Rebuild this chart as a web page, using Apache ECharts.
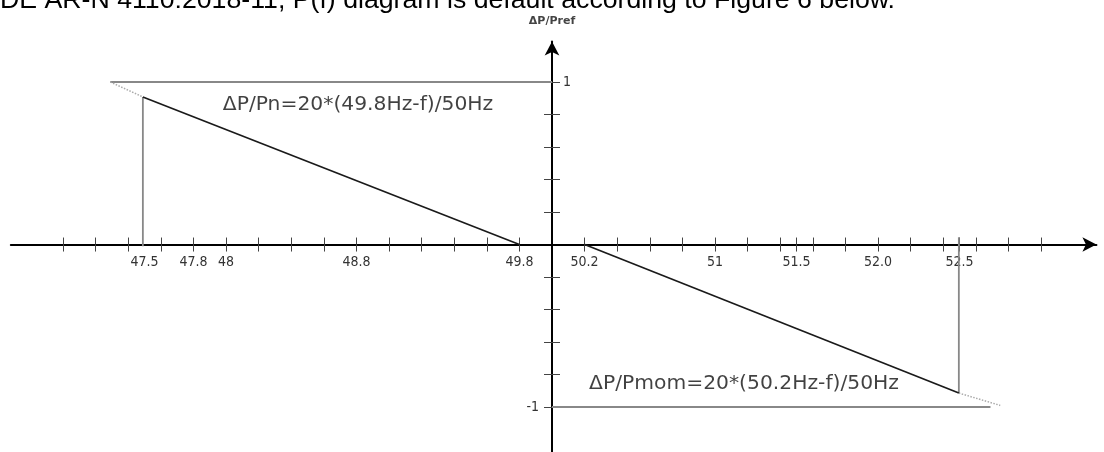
<!DOCTYPE html>
<html>
<head>
<meta charset="utf-8">
<title>P(f) diagram</title>
<script src="https://cdn.jsdelivr.net/npm/echarts@6/dist/echarts.min.js"></script>
<style>
  html, body { margin: 0; padding: 0; background: #fff; }
  #chart { width: 1104px; height: 452px; }
</style>
</head>
<body>
<div id="chart"></div>
<script>
// schematic diagram: x is in "tick steps" from the origin, y is ΔP/Pref
const headline = "DE AR-N 4110:2018-11, P(f) diagram is default according to Figure 6 below.";

const xTickValues = [-15, -14, -13, -12, -11, -10, -9, -8, -7, -6, -5, -4, -3, -2, -1,
  1, 2, 3, 4, 5, 6, 7, 7.5, 8, 9, 10, 11, 12, 12.5, 13, 14, 15];
const xLabelValues = [-12.5, -11, -10, -6, -1, 1, 5, 7.5, 10, 12.5];
const xLabelTexts = ["47.5", "47.8", "48", "48.8", "49.8", "50.2", "51", "51.5", "52.0", "52.5"];

const yTickValues = [-1, -0.8, -0.6, -0.4, -0.2, 0.2, 0.4, 0.6, 0.8, 1];
const yLabelLeft = [-1];
const yLabelRight = [1];

// curve pieces
const upperLimit = [[-13.55, 1], [0, 1]];
const lowerLimit = [[0, -1], [13.45, -1]];
const leftSlope = [[-12.55, 0.908], [-1, 0]];
const rightSlope = [[1, 0], [12.48, -0.914]];
const leftExtension = [[-13.55, 1], [-12.55, 0.908]];
const rightExtension = [[12.48, -0.914], [13.75, -0.99]];
const leftDrop = [[-12.55, 0.908], [-12.55, -0.01]];
const rightDrop = [[12.48, 0.045], [12.48, -0.914]];

const annotationTexts = ["ΔP/Pn=20*(49.8Hz-f)/50Hz", "ΔP/Pmom=20*(50.2Hz-f)/50Hz"];
const annotationX = [-5.95, 5.89];
const annotationY = [0.858, -0.858];

const X_MIN = -16.6, X_MAX = 16.7, Y_MIN = -1.3, Y_MAX = 1.25;
const grid = { left: 10.84, right: 7.58, top: 41.4, bottom: -3.8 };
// where the origin sits inside the grid, used to pull the label axes onto the zero lines
const W = 1104, H = 452;
const gridW = W - grid.left - grid.right, gridH = H - grid.top - grid.bottom;
const zeroX = grid.left + gridW * (0 - X_MIN) / (X_MAX - X_MIN);
const zeroY = grid.top + gridH * (Y_MAX - 0) / (Y_MAX - Y_MIN);

const chart = echarts.init(document.getElementById("chart"), null, { renderer: "canvas" });

const tickFont = { fontFamily: "'DejaVu Sans Condensed', 'Liberation Sans', sans-serif", fontSize: 14, color: "#333" };
const tickLine = { color: "#444", width: 1 };

const lineSeries = (data, color, width, type) => ({
  type: "line",
  data: data,
  symbol: "none",
  silent: true,
  lineStyle: { color: color, width: width, type: type || "solid" },
  z: 3,
});

const bareX = { type: "value", min: X_MIN, max: X_MAX, splitLine: { show: false } };
const bareY = { type: "value", min: Y_MIN, max: Y_MAX, splitLine: { show: false } };

const option = {
  animation: false,
  backgroundColor: "#fff",
  title: {
    text: headline,
    left: 0,
    top: -13,
    padding: 0,
    textStyle: { fontFamily: "Liberation Sans", fontSize: 26.7, fontWeight: "normal", color: "#000" },
  },
  grid: { ...grid, containLabel: false, outerBoundsMode: "none" },
  xAxis: [
    {
      ...bareX,
      position: "bottom",
      axisLine: {
        onZero: true,
        onZeroAxisIndex: 0,
        symbol: ["none", "arrow"],
        symbolSize: [11, 14],
        lineStyle: { color: "#000", width: 2 },
      },
      axisTick: { show: true, length: 7, customValues: xTickValues, lineStyle: tickLine },
      axisLabel: { show: false },
    },
    {
      ...bareX,
      position: "top",
      axisLine: { show: false, onZero: true, onZeroAxisIndex: 0 },
      axisTick: { show: true, length: 7, customValues: xTickValues, lineStyle: tickLine },
      axisLabel: { show: false },
    },
    {
      ...bareX,
      position: "bottom",
      offset: -(H - grid.bottom - zeroY),
      axisLine: { show: false, onZero: false },
      axisTick: { show: false },
      axisLabel: {
        show: true,
        margin: 11,
        customValues: xLabelValues,
        formatter: v => xLabelTexts[xLabelValues.indexOf(v)],
        ...tickFont,
      },
    },
  ],
  yAxis: [
    {
      ...bareY,
      position: "left",
      name: "ΔP/Pref",
      nameLocation: "end",
      nameGap: 15,
      nameTextStyle: { fontFamily: "DejaVu Sans", fontSize: 11, fontWeight: "bold", color: "#444" },
      axisLine: {
        onZero: true,
        onZeroAxisIndex: 0,
        symbol: ["none", "arrow"],
        symbolSize: [11, 14],
        lineStyle: { color: "#000", width: 2 },
      },
      axisTick: { show: true, length: 8, customValues: yTickValues, lineStyle: tickLine },
      axisLabel: { show: false },
    },
    {
      ...bareY,
      position: "right",
      axisLine: { show: false, onZero: true, onZeroAxisIndex: 0 },
      axisTick: { show: true, length: 8, customValues: yTickValues, lineStyle: tickLine },
      axisLabel: { show: false },
    },
    {
      ...bareY,
      position: "left",
      offset: -(zeroX - grid.left),
      axisLine: { show: false, onZero: false },
      axisTick: { show: false },
      axisLabel: { show: true, margin: 13, customValues: yLabelLeft, formatter: v => String(v), ...tickFont },
    },
    {
      ...bareY,
      position: "right",
      offset: -(W - grid.right - zeroX),
      axisLine: { show: false, onZero: false },
      axisTick: { show: false },
      axisLabel: { show: true, margin: 11, customValues: yLabelRight, formatter: v => String(v), ...tickFont },
    },
  ],
  series: [
    lineSeries(upperLimit, "#888", 2),
    lineSeries(lowerLimit, "#888", 2),
    lineSeries(leftExtension, "#aaaaaa", 1.5, "dotted"),
    lineSeries(rightExtension, "#aaaaaa", 1.5, "dotted"),
    lineSeries(leftDrop, "#888", 1.8),
    lineSeries(rightDrop, "#888", 1.8),
    lineSeries(leftSlope, "#1a1a1a", 1.7),
    lineSeries(rightSlope, "#1a1a1a", 1.7),
    {
      type: "scatter",
      symbolSize: 0,
      silent: true,
      data: annotationTexts.map((t, i) => [annotationX[i], annotationY[i], t]),
      label: {
        show: true,
        position: "inside",
        formatter: p => p.data[2],
        fontFamily: "DejaVu Sans",
        fontSize: 20.3,
        color: "#111",
      },
    },
  ],
};

chart.setOption(option);
</script>
</body>
</html>
